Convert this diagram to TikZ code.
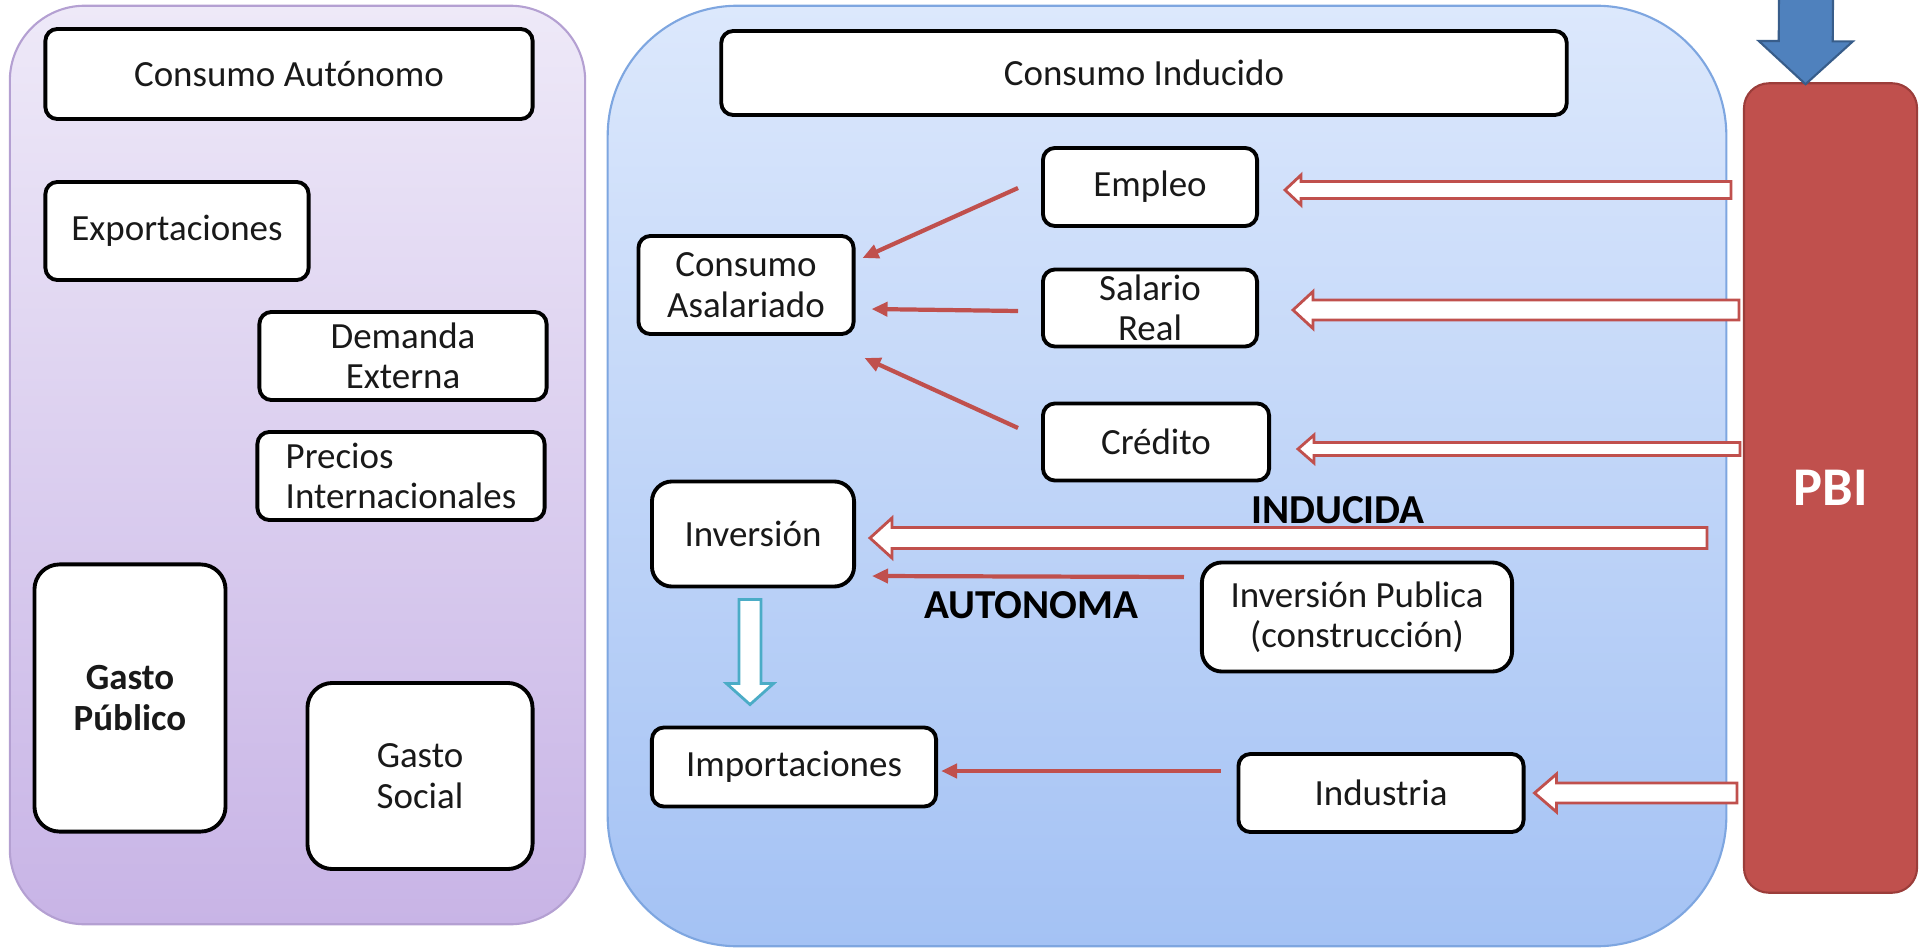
\documentclass[tikz,border=0pt]{standalone}
\usepackage{fontspec}
\setmainfont{Carlito}
\definecolor{pbired}{HTML}{C0504D}
\definecolor{pbiedge}{HTML}{9B3D3A}
\definecolor{lilatop}{HTML}{EEE9F8}
\definecolor{lilabot}{HTML}{C8B4E6}
\definecolor{lilaedge}{HTML}{B4A0D2}
\definecolor{celtop}{HTML}{DCE8FC}
\definecolor{celbot}{HTML}{A4C2F4}
\definecolor{celedge}{HTML}{7EA6E0}
\definecolor{azul}{HTML}{4F81BD}
\definecolor{azuledge}{HTML}{385D8A}
\definecolor{turq}{HTML}{4BACC6}
\usepackage{tikz}
\usetikzlibrary{arrows.meta,calc,shapes}
\newcommand{\boxfont}{\fontsize{10.5}{11.5}\selectfont}
\tikzstyle{box}=[draw=black,line width=1.1pt,rounded corners=1.2mm,fill=white,align=center,inner sep=0pt,font=\boxfont,text=black!90]
\tikzstyle{bigbox}=[box,rounded corners=2.5mm]
\tikzstyle{lpanel}=[draw=lilaedge,line width=0.6pt,rounded corners=7.5mm,top color=lilatop,bottom color=lilabot]
\tikzstyle{mpanel}=[draw=celedge,line width=0.6pt,rounded corners=13mm,top color=celtop,bottom color=celbot]
\tikzstyle{pbibar}=[draw=pbiedge,line width=0.6pt,rounded corners=2.5mm,fill=pbired,text=white,font=\fontsize{15.5}{18}\selectfont\bfseries]
\tikzstyle{lbl}=[font=\fontsize{11.7}{14}\selectfont\bfseries,inner sep=0pt]
\tikzstyle{redarr}=[draw=pbired,line width=1.2pt,-{Triangle[length=1.6mm,width=1.4mm]}]
\tikzstyle{hollowred}=[draw=pbired,line width=0.8pt,fill=white,line join=miter]
\tikzstyle{hollowturq}=[draw=turq,line width=0.8pt,fill=white,line join=miter]
\tikzstyle{bluearr}=[draw=azuledge,line width=0.6pt,fill=azul,line join=miter]
% block arrow: style, tail, tip, shaft half width, head half width, head length
\newcommand{\blockarrow}[6]{%
  \path (#3) coordinate (ba tip) (#2) coordinate (ba tail);
  \path ($(ba tip)!#6!(ba tail)$) coordinate (ba neck);
  \draw[#1] ($(ba tail)!#4!90:(ba tip)$) -- ($(ba neck)!#4!90:(ba tip)$)
    -- ($(ba neck)!#5!90:(ba tip)$) -- (ba tip) -- ($(ba neck)!#5!-90:(ba tip)$)
    -- ($(ba neck)!#4!-90:(ba tip)$) -- ($(ba tail)!#4!-90:(ba tip)$) -- cycle;
}
\begin{document}
\begin{tikzpicture}[x=0.01cm,y=-0.01cm]
\useasboundingbox (0,0) rectangle (1919,949);

% panels
\node[lpanel,minimum width=57.5mm,minimum height=91.8mm] (aut) at (297.5,465) {};
\node[mpanel,minimum width=111.8mm,minimum height=94mm] (ind) at (1167,476) {};
\node[pbibar,minimum width=17.3mm,minimum height=80.9mm] (pbi) at (1830.5,488) {PBI};

% consumo autonomo
\node[box,minimum width=48.7mm,minimum height=9mm] (ca) at (289,74) {Consumo Autónomo};
\node[box,minimum width=26.3mm,minimum height=9.8mm] (exp) at (177,231) {Exportaciones};
\node[box,minimum width=28.7mm,minimum height=8.8mm] (dem) at (403,356) {Demanda\\Externa};
\node[box,align=left,minimum width=28.7mm,minimum height=8.8mm] (pre) at (401,476) {Precios\\Internacionales};
\node[bigbox,font=\boxfont\bfseries,minimum width=19.1mm,minimum height=26.7mm] (gp) at (130,698) {Gasto\\Público};
\node[bigbox,minimum width=22.5mm,minimum height=18.6mm] (gs) at (420,776) {Gasto\\Social};

% consumo inducido
\node[box,minimum width=84.5mm,minimum height=8.4mm] (ci) at (1144,73) {Consumo Inducido};
\node[box,minimum width=21.4mm,minimum height=7.8mm] (emp) at (1150,187) {Empleo};
\node[box,minimum width=21.5mm,minimum height=9.8mm] (cas) at (746,285) {Consumo\\Asalariado};
\node[box,minimum width=21.4mm,minimum height=7.7mm] (sal) at (1150,308) {Salario\\Real};
\node[box,minimum width=22.6mm,minimum height=7.7mm] (cre) at (1156,442) {Crédito};
\node[bigbox,rounded corners=2mm,minimum width=20.2mm,minimum height=10.5mm] (inv) at (753,534) {Inversión};
\node[bigbox,rounded corners=2mm,minimum width=31mm,minimum height=10.9mm] (ip) at (1357,617) {Inversión Publica\\(construcción)};
\node[box,minimum width=28.4mm,minimum height=7.9mm] (imp) at (794,767) {Importaciones};
\node[box,minimum width=28.5mm,minimum height=7.8mm] (indu) at (1381,793) {Industria};

\node[lbl] (lind) at (1338,510) {INDUCIDA};
\node[lbl] (laut) at (1031,605) {AUTONOMA};

% thin arrows
\path[redarr] ($(emp.west)+(-23,1)$) -- ($(cas.east)+(7,-27)$);
\path[redarr] ($(sal.west)+(-23,3)$) -- ($(cas.east)+(16,24)$);
\path[redarr] ($(cre.west)+(-23,-14)$) -- ($(cas.east)+(9,73)$);
\path[redarr] ($(ip.west)+(-16,-40)$) -- ($(inv.east)+(16,42)$);
\path[redarr] ($(indu.west)+(-16,-22)$) -- ($(imp.east)+(3,4)$);

% block arrows from PBI
\blockarrow{hollowred}{$(pbi.west |- emp)+(-12,3)$}{$(emp.east)+(26,3)$}{0.85mm}{1.5mm}{1.6mm}
\blockarrow{hollowred}{$(pbi.west |- sal)+(-4,2)$}{$(sal.east)+(34,2)$}{1mm}{1.85mm}{2mm}
\blockarrow{hollowred}{$(pbi.west |- cre)+(-3,7)$}{$(cre.east)+(27,7)$}{0.65mm}{1.4mm}{1.6mm}
\blockarrow{hollowred}{$(pbi.west |- inv)+(-36,4)$}{$(inv.east)+(14,4)$}{1.05mm}{2mm}{2.2mm}
\blockarrow{hollowred}{$(pbi.west |- indu)+(-6,0)$}{$(indu.east)+(9,0)$}{1mm}{1.9mm}{2.2mm}
\blockarrow{hollowturq}{$(inv.south)+(-3,11)$}{$(imp.north)+(-44,-21)$}{1.1mm}{2.35mm}{2.1mm}
\coordinate (top) at (1806,-10);
\blockarrow{bluearr}{top}{$(pbi.north)+(-25,2)$}{2.7mm}{4.7mm}{4.3mm}

\end{tikzpicture}
\end{document}
